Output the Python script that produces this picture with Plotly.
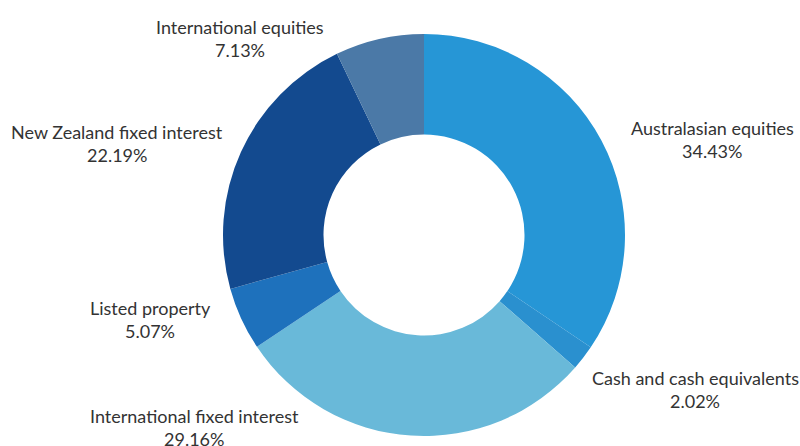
import plotly.graph_objects as go

categories = ["Australasian equities", "Cash and cash equivalents", "International fixed interest",
              "Listed property", "New Zealand fixed interest", "International equities"]
values = [34.43, 2.02, 29.16, 5.07, 22.19, 7.13]
colors = ["#2696d6", "#2a90cf", "#69b9d9", "#1e71bc", "#134a8f", "#4b79a7"]

# label anchor positions in paper coords (x, y of first line)
label_pos = {
    "Australasian equities": (0.890, 0.713),
    "Cash and cash equivalents": (0.869, 0.152),
    "International fixed interest": (0.2425, 0.067),
    "Listed property": (0.1875, 0.309),
    "New Zealand fixed interest": (0.146, 0.704),
    "International equities": (0.300, 0.939),
}

fig = go.Figure(go.Pie(
    labels=categories, values=values, hole=0.5, sort=False, direction="clockwise",
    rotation=0, marker=dict(colors=colors, line=dict(width=0)),
    textinfo="none", hoverinfo="label+percent", showlegend=False,
    domain=dict(x=[0.27875, 0.78125], y=[0.02242, 0.92377]),
))

font = dict(family="Lato, Open Sans, sans-serif", size=18, color="#333333")
for c, v in zip(categories, values):
    x, y = label_pos[c]
    fig.add_annotation(x=x, y=y, xref="paper", yref="paper", text=c, showarrow=False,
                       font=font, xanchor="center", yanchor="middle")
    fig.add_annotation(x=x, y=y - 23 / 446, xref="paper", yref="paper", text=f"{v:.2f}%",
                       showarrow=False, font=font, xanchor="center", yanchor="middle")

fig.update_layout(width=800, height=446, margin=dict(l=0, r=0, t=0, b=0),
                  paper_bgcolor="white", plot_bgcolor="white")
fig.write_html("out.html", config={"displayModeBar": False},
               post_script="document.body.style.margin='0';document.body.style.overflow='hidden';")
